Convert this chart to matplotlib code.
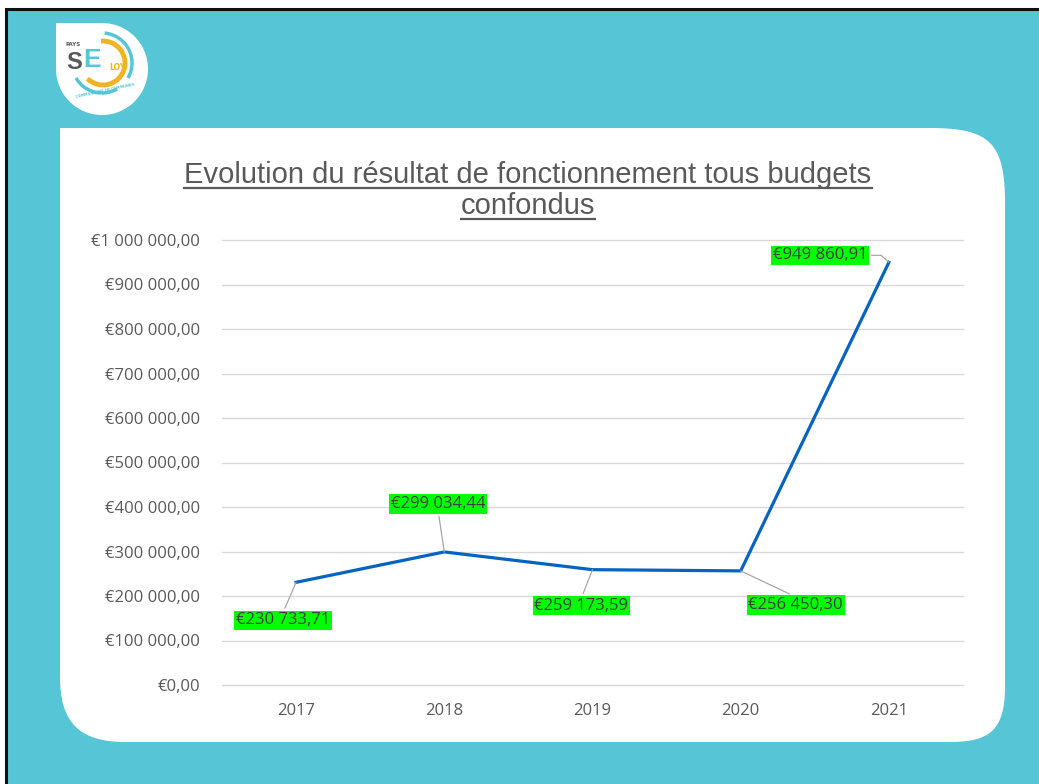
import matplotlib
matplotlib.use("Agg")
import matplotlib.pyplot as plt
from matplotlib.path import Path
from matplotlib.patches import PathPatch, Rectangle, Circle, Arc
from matplotlib.ticker import FuncFormatter

# ---- data ----
years = ["2017", "2018", "2019", "2020", "2021"]
values = [230733.71, 299034.44, 259173.59, 256450.30, 949860.91]
label_texts = ["€230 733,71", "€299 034,44", "€259 173,59", "€256 450,30", "€949 860,91"]
title_lines = ["Evolution du résultat de fonctionnement tous budgets", "confondus"]

# label placement (style)
label_offsets = [(-13, -38), (-6, 48), (-11, -36), (55, -34), (-69, 7)]
label_relpos = [(0.5, 1.0), (0.5, 0.0), (0.5, 1.0), (0.5, 1.0), (1.0, 0.5)]
label_conn = ["arc3", "arc3", "arc3", "arc3", "angle,angleA=0,angleB=-42,rad=0"]

W, H = 1039, 784
TEAL = "#56C5D5"
ORANGE = "#F0B323"
GRAY = "#595959"

fig = plt.figure(figsize=(W / 100, H / 100), dpi=100)
fig.patch.set_facecolor("white")

# background overlay axes in pixel coordinates
bg = fig.add_axes([0, 0, 1, 1])
bg.set_xlim(0, W)
bg.set_ylim(H, 0)
bg.axis("off")
bg.add_patch(Rectangle((6, 9), W, H, facecolor=TEAL, edgecolor="#111111", lw=2.2))

# white panel with rounded corners
x0, y0, x1, y1 = 60, 128, 1005, 742
rtr, rbl, rbr = 75, 65, 55
verts = [
    (x0, y0), (x1 - rtr, y0),
    (x1 - rtr * 0.2, y0), (x1, y0 + rtr * 0.2), (x1, y0 + rtr),
    (x1, y1 - rbr),
    (x1, y1 - rbr * 0.2), (x1 - rbr * 0.3, y1), (x1 - rbr, y1),
    (x0 + rbl, y1),
    (x0 + rbl * 0.3, y1), (x0, y1 - rbl * 0.3), (x0, y1 - rbl),
    (x0, y0), (x0, y0),
]
codes = [Path.MOVETO, Path.LINETO,
         Path.CURVE4, Path.CURVE4, Path.CURVE4,
         Path.LINETO,
         Path.CURVE4, Path.CURVE4, Path.CURVE4,
         Path.LINETO,
         Path.CURVE4, Path.CURVE4, Path.CURVE4,
         Path.LINETO, Path.CLOSEPOLY]
bg.add_patch(PathPatch(Path(verts, codes), facecolor="white", edgecolor="none"))

# logo
cx, cy, r = 102, 69, 46
bg.add_patch(Circle((cx, cy), r, facecolor="white", edgecolor="none"))
bg.add_patch(Rectangle((cx - r, cy - r), r, r, facecolor="white", edgecolor="none"))
bg.add_patch(Arc((103, 63), 44, 44, theta1=-95, theta2=135, color=ORANGE, lw=3.5))
bg.add_patch(Arc((102, 63), 60, 60, theta1=-85, theta2=30, color=TEAL, lw=2.5))
bg.add_patch(Arc((102, 63), 60, 60, theta1=60, theta2=150, color=TEAL, lw=2.5))
bg.text(73, 44, "PAYS", fontsize=4, color=GRAY, ha="center", va="center", fontweight="bold")
bg.text(82, 62, "S", fontsize=17, color=GRAY, ha="right", va="center", fontweight="bold",
        family="Liberation Sans")
bg.text(83.5, 60, "E", fontsize=19, color=TEAL, ha="left", va="center", fontweight="bold",
        family="Liberation Sans")
bg.text(117, 67, "LOY", fontsize=5.5, color=ORANGE, ha="center", va="center", fontweight="bold")
bg.text(105, 91, "COMMUNAUTÉ DE COMMUNES", fontsize=2.5, color=TEAL, ha="center",
        va="center", rotation=12, fontweight="bold")

# ---- chart ----
ax = fig.add_axes([222 / W, 1 - 685 / H, (963 - 222) / W, (685 - 240) / H])
ax.set_facecolor("none")
xs = list(range(len(years)))
ax.plot(xs, values, color="#0563C1", lw=2.3, solid_joinstyle="miter", zorder=3)
ax.set_xlim(-0.5, len(years) - 0.5)
ax.set_ylim(0, 1_000_000)
ax.set_yticks(range(0, 1_000_001, 100_000))


def eur(v, pos=None):
    s = f"{int(round(v)):,}".replace(",", " ")
    return f"€{s},00"


ax.yaxis.set_major_formatter(FuncFormatter(eur))
ax.set_xticks(xs)
ax.set_xticklabels(years)
ax.grid(axis="y", color="#D9D9D9", lw=1)
ax.set_axisbelow(True)
for gl in ax.get_ygridlines():
    gl.set_clip_on(False)
for s in ax.spines.values():
    s.set_visible(False)
ax.tick_params(length=0, colors=GRAY, labelsize=12)
ax.tick_params(axis="y", pad=16)
ax.tick_params(axis="x", pad=13)
for lab in ax.get_xticklabels() + ax.get_yticklabels():
    lab.set_family("Open Sans")

for x, v, t, off, rp, cs in zip(xs, values, label_texts, label_offsets, label_relpos, label_conn):
    ax.annotate(t, (x, v), xytext=off, textcoords="offset pixels",
                ha="center", va="center", fontsize=12, color="#404040",
                family="Open Sans",
                bbox=dict(boxstyle="square,pad=0.1", facecolor="#00FF00", edgecolor="none"),
                arrowprops=dict(arrowstyle="-", color="#A6A6A6", lw=0.9,
                                shrinkA=2, shrinkB=0, relpos=rp, connectionstyle=cs),
                zorder=4)

# title with underline
fig.canvas.draw()
renderer = fig.canvas.get_renderer()
baselines = [183, 214]
for ln, yb in zip(title_lines, baselines):
    t = bg.text(528, yb, ln, ha="center", va="baseline", fontsize=21, color=GRAY,
                family="Liberation Sans")
    bb = t.get_window_extent(renderer)
    bg.plot([bb.x0, bb.x1], [yb + 4.5, yb + 4.5], color=GRAY, lw=1.6)

fig.savefig("out.png", dpi=100)
